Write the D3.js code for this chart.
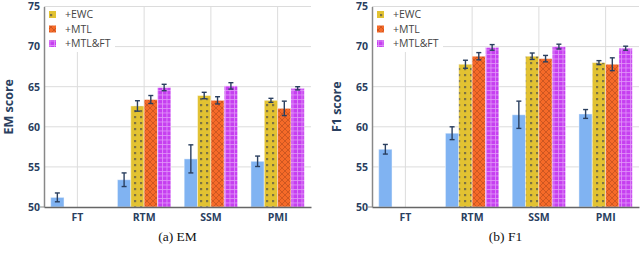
<!DOCTYPE html>
<html><head><meta charset="utf-8">
<script src="https://cdn.jsdelivr.net/npm/d3@7"></script>
<style>body{margin:0;background:#fff}svg{display:block}</style>
</head><body>
<svg id="c" width="640" height="260"></svg>
<script>
const categories = ["FT","RTM","SSM","PMI"];
const seriesNames = ["Base","+EWC","+MTL","+MTL&FT"];
const legendNames = ["+EWC","+MTL","+MTL&FT"];
const yTicks = [50,55,60,65,70,75];

// EM panel values (null = missing)
const emBase   = [51.2, 53.4, 56.0, 55.7];
const emEWC    = [null, 62.6, 63.9, 63.3];
const emMTL    = [null, 63.4, 63.3, 62.3];
const emMTLFT  = [null, 64.9, 65.1, 64.8];
const emBaseErr  = [0.55, 0.85, 1.75, 0.65];
const emEWCErr   = [null, 0.65, 0.4, 0.25];
const emMTLErr   = [null, 0.5, 0.45, 0.9];
const emMTLFTErr = [null, 0.4, 0.4, 0.2];

// F1 panel values
const f1Base   = [57.2, 59.2, 61.5, 61.6];
const f1EWC    = [null, 67.8, 68.8, 68.0];
const f1MTL    = [null, 68.8, 68.5, 67.8];
const f1MTLFT  = [null, 69.9, 70.0, 69.8];
const f1BaseErr  = [0.6, 0.8, 1.7, 0.55];
const f1EWCErr   = [null, 0.5, 0.4, 0.25];
const f1MTLErr   = [null, 0.45, 0.4, 0.8];
const f1MTLFTErr = [null, 0.35, 0.3, 0.25];

const panels = [
  {x0:44, x1:311, title:"EM score", caption:"(a) EM", vals:[emBase,emEWC,emMTL,emMTLFT], errs:[emBaseErr,emEWCErr,emMTLErr,emMTLFTErr]},
  {x0:372, x1:639, title:"F1 score", caption:"(b) F1", vals:[f1Base,f1EWC,f1MTL,f1MTLFT], errs:[f1BaseErr,f1EWCErr,f1MTLErr,f1MTLFTErr]}
];

const svg = d3.select("#c");
const defs = svg.append("defs");
const ink = "#2a3f5f";
const fills = ["#80b3f2","url(#pEWC)","url(#pMTL)","url(#pMTLFT)"];
const swatch = [null,"url(#pEWC)","url(#pMTL)","url(#pMTLFT)"];

// patterns
let p = defs.append("pattern").attr("id","pEWC").attr("patternUnits","userSpaceOnUse").attr("width",6).attr("height",6);
p.append("rect").attr("width",6).attr("height",6).attr("fill","#e2c232");
p.append("rect").attr("x",2).attr("y",2).attr("width",2.2).attr("height",2.2).attr("fill","#7d7343");
p = defs.append("pattern").attr("id","pMTL").attr("patternUnits","userSpaceOnUse").attr("width",6).attr("height",6);
p.append("rect").attr("width",6).attr("height",6).attr("fill","#f66a28");
p.append("path").attr("d","M0,0L6,6M6,0L0,6").attr("stroke","#c4521f").attr("stroke-width",0.8);
p = defs.append("pattern").attr("id","pMTLFT").attr("patternUnits","userSpaceOnUse").attr("width",4.5).attr("height",4.5);
p.append("rect").attr("width",4.5).attr("height",4.5).attr("fill","#c63ff0");
p.append("path").attr("d","M0.5,0V4.5M0,0.5H4.5").attr("stroke","#e296f8").attr("stroke-width",0.8);

const y = d3.scaleLinear().domain([50,75]).range([207,6.5]);

panels.forEach(P => {
  const g = svg.append("g");
  const x = d3.scaleBand().domain(categories).range([P.x0,P.x1]).padding(0);
  const bw = x.bandwidth();
  const xs = d3.scaleBand().domain(seriesNames).range([bw*0.1, bw*0.9]).padding(0);

  // grid
  g.selectAll(".hg").data(yTicks.slice(1)).join("line")
    .attr("x1",P.x0).attr("x2",P.x1).attr("y1",d=>y(d)).attr("y2",d=>y(d))
    .attr("stroke","#dcdcdc").attr("stroke-width",1);
  g.selectAll(".vg").data(categories).join("line")
    .attr("x1",d=>x(d)+bw/2).attr("x2",d=>x(d)+bw/2).attr("y1",y(75)).attr("y2",y(50))
    .attr("stroke","#dcdcdc").attr("stroke-width",1);

  // legend background
  g.append("rect").attr("x",P.x0+1).attr("y",7).attr("width",70).attr("height",45).attr("fill","#fff");

  // bars
  P.vals.forEach((arr,si) => {
    arr.forEach((v,ci) => {
      if (v==null) return;
      const bx = x(categories[ci]) + xs(seriesNames[si]);
      g.append("rect").attr("x",bx).attr("y",y(v)).attr("width",xs.bandwidth()).attr("height",y(50)-y(v))
        .attr("fill",fills[si]).attr("stroke","rgba(255,255,255,0.45)").attr("stroke-width",1);
      const e = P.errs[si][ci];
      const cx = bx + xs.bandwidth()/2;
      const eg = g.append("g").attr("stroke",ink).attr("stroke-width",1.4);
      eg.append("line").attr("x1",cx).attr("x2",cx).attr("y1",y(v-e)).attr("y2",y(v+e));
      eg.append("line").attr("x1",cx-2.5).attr("x2",cx+2.5).attr("y1",y(v-e)).attr("y2",y(v-e));
      eg.append("line").attr("x1",cx-2.5).attr("x2",cx+2.5).attr("y1",y(v+e)).attr("y2",y(v+e));
    });
  });

  // axes
  const ya = d3.axisLeft(y).tickValues(yTicks).tickSize(0).tickPadding(4);
  const yg = g.append("g").attr("transform",`translate(${P.x0},0)`).call(ya);
  yg.select(".domain").attr("stroke","#888").attr("stroke-width",1.5);
  yg.selectAll("text").attr("fill",ink).attr("font-family","Open Sans").attr("font-weight","bold").attr("font-size",10.5);
  const xa = d3.axisBottom(x).tickSize(0).tickPadding(7);
  const xg = g.append("g").attr("transform",`translate(0,${y(50)})`).call(xa);
  xg.select(".domain").attr("stroke","#666").attr("stroke-width",1.5);
  xg.selectAll("text").attr("fill",ink).attr("font-family","Open Sans").attr("font-weight","bold").attr("font-size",10.5);

  // small tick at 50
  g.append("line").attr("x1",P.x0-5).attr("x2",P.x0).attr("y1",y(50)).attr("y2",y(50)).attr("stroke","#888");

  // y title
  g.append("text").attr("transform",`translate(${P.x0-31},${y(62.5)}) rotate(-90)`)
    .attr("text-anchor","middle").attr("fill",ink).attr("font-family","Open Sans").attr("font-weight","bold")
    .attr("font-size",12.5).text(P.title);

  // caption
  g.append("text").attr("x",(P.x0+P.x1)/2).attr("y",241).attr("text-anchor","middle")
    .attr("font-family","Liberation Serif").attr("font-size",13.5).attr("fill","#111").text(P.caption);

  // legend
  legendNames.forEach((n,i) => {
    const ly = 14.5 + i*14.5;
    g.append("rect").attr("x",P.x0+5).attr("y",ly-3.5).attr("width",7).attr("height",7).attr("fill",swatch[i+1]);
    g.append("text").attr("x",P.x0+21).attr("y",ly).attr("dy","0.35em").attr("fill","#444")
      .attr("font-family","Open Sans").attr("font-size",10.5).text(n);
  });
});
</script>
</body></html>
